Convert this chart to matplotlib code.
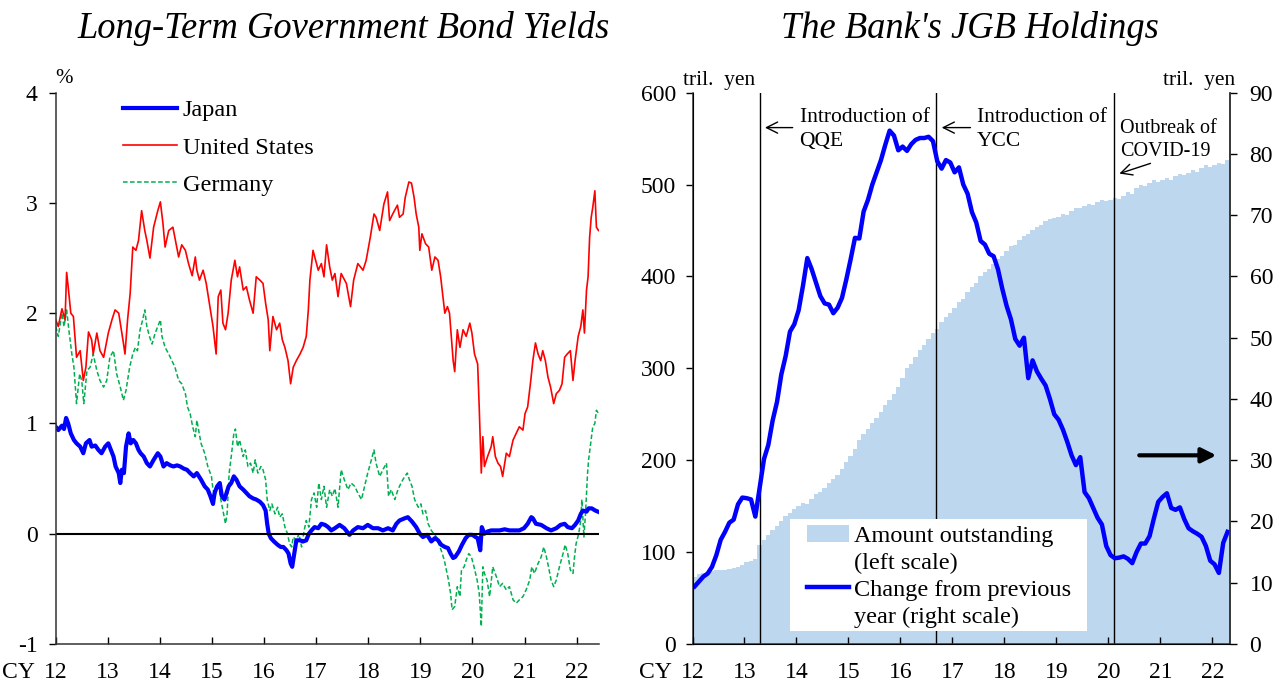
import numpy as np
import matplotlib
matplotlib.use("Agg")
import matplotlib.pyplot as plt
from matplotlib.lines import Line2D
from matplotlib.patches import Patch, Rectangle

plt.rcParams['font.family'] = ['Liberation Serif', 'DejaVu Serif']
plt.rcParams['axes.unicode_minus'] = False

# ---- left panel: 10-year government bond yields (%) ----
jp_t = [12.00, 12.05, 12.12, 12.16, 12.20, 12.24, 12.29, 12.35, 12.40, 12.47, 12.53, 12.58, 12.65, 12.69,
        12.76, 12.82, 12.88, 12.95, 13.01, 13.06, 13.11, 13.15, 13.21, 13.24, 13.27, 13.31, 13.35, 13.40,
        13.44, 13.49, 13.54, 13.59, 13.63, 13.69, 13.75, 13.81, 13.88, 13.96, 14.01, 14.07, 14.13, 14.20,
        14.26, 14.33, 14.39, 14.46, 14.52, 14.58, 14.65, 14.71, 14.79, 14.86, 14.92, 14.97, 15.02, 15.05,
        15.10, 15.15, 15.19, 15.24, 15.28, 15.32, 15.37, 15.42, 15.47, 15.53, 15.60, 15.66, 15.72, 15.79,
        15.85, 15.92, 15.98, 16.03, 16.06, 16.09, 16.13, 16.19, 16.26, 16.32, 16.37, 16.43, 16.47, 16.51,
        16.54, 16.58, 16.62, 16.69, 16.75, 16.81, 16.86, 16.91, 16.97, 17.04, 17.10, 17.17, 17.23, 17.29,
        17.36, 17.45, 17.54, 17.64, 17.71, 17.80, 17.90, 17.99, 18.09, 18.19, 18.28, 18.38, 18.47, 18.54,
        18.60, 18.70, 18.76, 18.84, 18.92, 18.99, 19.05, 19.13, 19.21, 19.28, 19.34, 19.40, 19.47, 19.53,
        19.58, 19.63, 19.67, 19.74, 19.80, 19.87, 19.93, 20.00, 20.06, 20.10, 20.15, 20.18, 20.23, 20.29,
        20.36, 20.42, 20.52, 20.62, 20.71, 20.81, 20.90, 20.99, 21.06, 21.13, 21.16, 21.22, 21.32, 21.42,
        21.51, 21.61, 21.69, 21.77, 21.83, 21.91, 21.97, 22.03, 22.08, 22.12, 22.19, 22.23, 22.29, 22.36,
        22.41]
jp_v = [0.97, 0.94, 0.98, 0.95, 1.05, 1.00, 0.91, 0.85, 0.82, 0.79, 0.73, 0.82, 0.85, 0.79,
        0.80, 0.76, 0.73, 0.79, 0.82, 0.76, 0.70, 0.61, 0.55, 0.46, 0.58, 0.55, 0.79, 0.91,
        0.82, 0.85, 0.82, 0.76, 0.73, 0.70, 0.64, 0.61, 0.67, 0.73, 0.70, 0.61, 0.64, 0.62,
        0.61, 0.62, 0.61, 0.59, 0.58, 0.55, 0.52, 0.55, 0.49, 0.43, 0.40, 0.34, 0.27, 0.37,
        0.43, 0.46, 0.34, 0.31, 0.37, 0.43, 0.46, 0.52, 0.49, 0.43, 0.40, 0.37, 0.34, 0.32,
        0.31, 0.29, 0.26, 0.21, 0.09, 0.00, -0.04, -0.07, -0.10, -0.12, -0.12, -0.15, -0.18, -0.27,
        -0.30, -0.18, -0.06, -0.06, -0.07, -0.06, 0.00, 0.03, 0.06, 0.05, 0.09, 0.08, 0.06, 0.03,
        0.05, 0.08, 0.05, -0.01, 0.03, 0.06, 0.05, 0.08, 0.05, 0.05, 0.03, 0.05, 0.03, 0.09,
        0.12, 0.14, 0.15, 0.11, 0.06, 0.00, -0.03, -0.01, -0.07, -0.04, -0.06, -0.10, -0.12, -0.13,
        -0.18, -0.22, -0.21, -0.16, -0.10, -0.04, -0.01, -0.01, -0.03, -0.04, -0.15, 0.06, 0.00, 0.02,
        0.03, 0.03, 0.03, 0.04, 0.03, 0.03, 0.03, 0.05, 0.09, 0.15, 0.14, 0.09, 0.08, 0.05,
        0.03, 0.05, 0.08, 0.09, 0.06, 0.05, 0.08, 0.12, 0.18, 0.21, 0.20, 0.23, 0.23, 0.21,
        0.20]

us_t = [12.00, 12.05, 12.12, 12.18, 12.21, 12.24, 12.29, 12.34, 12.40, 12.47, 12.53, 12.58, 12.63, 12.69,
        12.72, 12.79, 12.85, 12.92, 13.01, 13.08, 13.14, 13.21, 13.25, 13.30, 13.33, 13.38, 13.43, 13.48,
        13.54, 13.59, 13.65, 13.71, 13.75, 13.81, 13.88, 13.96, 14.01, 14.06, 14.10, 14.17, 14.25, 14.29,
        14.36, 14.42, 14.49, 14.55, 14.62, 14.68, 14.71, 14.76, 14.83, 14.89, 14.96, 15.02, 15.08, 15.12,
        15.17, 15.21, 15.26, 15.31, 15.37, 15.44, 15.49, 15.53, 15.60, 15.66, 15.72, 15.79, 15.85, 15.92,
        15.98, 16.03, 16.08, 16.11, 16.17, 16.24, 16.30, 16.35, 16.40, 16.46, 16.51, 16.56, 16.62, 16.69,
        16.75, 16.81, 16.85, 16.88, 16.94, 16.99, 17.04, 17.10, 17.15, 17.20, 17.26, 17.31, 17.36, 17.42,
        17.48, 17.58, 17.66, 17.72, 17.80, 17.90, 17.96, 18.04, 18.11, 18.15, 18.22, 18.30, 18.37, 18.41,
        18.47, 18.56, 18.60, 18.67, 18.71, 18.78, 18.83, 18.88, 18.92, 18.97, 18.99, 19.03, 19.10, 19.16,
        19.22, 19.28, 19.34, 19.39, 19.44, 19.47, 19.52, 19.56, 19.60, 19.63, 19.66, 19.71, 19.76, 19.82,
        19.88, 19.95, 19.99, 20.04, 20.10, 20.13, 20.17, 20.20, 20.23, 20.29, 20.36, 20.39, 20.44, 20.49,
        20.54, 20.58, 20.65, 20.71, 20.78, 20.84, 20.90, 20.97, 21.01, 21.06, 21.12, 21.16, 21.21, 21.26,
        21.31, 21.35, 21.40, 21.45, 21.50, 21.56, 21.61, 21.67, 21.72, 21.77, 21.82, 21.88, 21.93, 21.97,
        22.03, 22.08, 22.12, 22.15, 22.19, 22.22, 22.25, 22.28, 22.31, 22.35, 22.38, 22.42]
us_v = [1.94, 1.88, 2.04, 1.94, 2.37, 2.24, 2.00, 1.97, 1.60, 1.66, 1.39, 1.51, 1.83, 1.76,
        1.63, 1.82, 1.66, 1.60, 1.82, 1.94, 2.03, 2.00, 1.88, 1.73, 1.63, 1.94, 2.18, 2.60,
        2.57, 2.66, 2.93, 2.75, 2.66, 2.50, 2.78, 2.93, 3.01, 2.81, 2.60, 2.75, 2.78, 2.68,
        2.51, 2.62, 2.57, 2.45, 2.34, 2.51, 2.39, 2.30, 2.39, 2.27, 2.06, 1.88, 1.63, 2.15,
        2.21, 1.91, 1.85, 2.00, 2.30, 2.48, 2.33, 2.42, 2.21, 2.24, 2.12, 2.00, 2.33, 2.30,
        2.27, 2.09, 1.94, 1.66, 1.97, 1.85, 1.91, 1.76, 1.69, 1.57, 1.36, 1.51, 1.57, 1.63,
        1.69, 1.79, 2.03, 2.30, 2.57, 2.48, 2.39, 2.45, 2.33, 2.62, 2.42, 2.30, 2.36, 2.15,
        2.36, 2.27, 2.06, 2.30, 2.45, 2.39, 2.48, 2.69, 2.90, 2.87, 2.75, 2.99, 3.10, 2.84,
        2.90, 2.98, 2.87, 2.90, 3.05, 3.19, 3.18, 3.05, 2.90, 2.78, 2.57, 2.72, 2.63, 2.60,
        2.39, 2.51, 2.48, 2.33, 2.12, 2.00, 2.06, 2.00, 1.76, 1.57, 1.47, 1.85, 1.69, 1.85,
        1.79, 1.91, 1.82, 1.63, 1.54, 1.15, 0.55, 0.88, 0.61, 0.70, 0.79, 0.88, 0.70, 0.64,
        0.61, 0.52, 0.73, 0.70, 0.85, 0.91, 0.97, 0.94, 1.09, 1.15, 1.39, 1.57, 1.73, 1.63,
        1.57, 1.66, 1.57, 1.42, 1.33, 1.18, 1.27, 1.30, 1.36, 1.60, 1.63, 1.66, 1.39, 1.57,
        1.79, 1.88, 2.03, 1.82, 2.21, 2.33, 2.69, 2.87, 2.96, 3.11, 2.78, 2.75]

de_t = [12.00, 12.05, 12.12, 12.16, 12.21, 12.26, 12.31, 12.35, 12.40, 12.46, 12.50, 12.54, 12.60, 12.66,
        12.72, 12.79, 12.85, 12.92, 12.98, 13.04, 13.11, 13.17, 13.24, 13.30, 13.35, 13.42, 13.48, 13.53,
        13.57, 13.62, 13.67, 13.71, 13.75, 13.80, 13.85, 13.91, 13.96, 14.01, 14.04, 14.10, 14.17, 14.23,
        14.29, 14.36, 14.42, 14.49, 14.53, 14.58, 14.63, 14.68, 14.71, 14.79, 14.86, 14.92, 14.99, 15.02,
        15.06, 15.12, 15.17, 15.21, 15.26, 15.29, 15.33, 15.37, 15.42, 15.45, 15.49, 15.53, 15.60, 15.64,
        15.69, 15.74, 15.79, 15.83, 15.88, 15.94, 15.98, 16.03, 16.06, 16.11, 16.15, 16.21, 16.26, 16.30,
        16.35, 16.40, 16.45, 16.49, 16.53, 16.56, 16.62, 16.67, 16.72, 16.77, 16.81, 16.86, 16.91, 16.96,
        17.01, 17.05, 17.10, 17.15, 17.20, 17.26, 17.31, 17.36, 17.42, 17.48, 17.54, 17.61, 17.67, 17.74,
        17.80, 17.87, 17.93, 17.99, 18.06, 18.11, 18.15, 18.22, 18.28, 18.35, 18.39, 18.44, 18.51, 18.57,
        18.63, 18.70, 18.75, 18.79, 18.84, 18.89, 18.96, 19.01, 19.05, 19.10, 19.15, 19.21, 19.26, 19.31,
        19.35, 19.40, 19.46, 19.50, 19.54, 19.58, 19.61, 19.66, 19.71, 19.76, 19.79, 19.84, 19.88, 19.93,
        19.98, 20.03, 20.09, 20.13, 20.17, 20.20, 20.23, 20.28, 20.33, 20.39, 20.46, 20.52, 20.58, 20.65,
        20.71, 20.78, 20.84, 20.90, 20.97, 21.03, 21.10, 21.14, 21.19, 21.26, 21.32, 21.37, 21.42, 21.46,
        21.51, 21.56, 21.61, 21.67, 21.74, 21.78, 21.83, 21.88, 21.93, 21.96, 21.99, 22.04, 22.08, 22.10,
        22.14, 22.17, 22.21, 22.23, 22.27, 22.31, 22.35, 22.38, 22.42]
de_v = [1.88, 1.79, 2.00, 1.88, 2.03, 1.82, 1.63, 1.51, 1.18, 1.45, 1.39, 1.18, 1.48, 1.51,
        1.63, 1.48, 1.39, 1.33, 1.39, 1.60, 1.66, 1.45, 1.33, 1.21, 1.30, 1.51, 1.63, 1.69,
        1.66, 1.85, 1.94, 2.03, 1.88, 1.79, 1.72, 1.82, 1.88, 1.94, 1.79, 1.69, 1.63, 1.57,
        1.51, 1.39, 1.36, 1.27, 1.15, 1.09, 0.97, 0.88, 1.03, 0.82, 0.73, 0.61, 0.52, 0.40,
        0.34, 0.46, 0.31, 0.21, 0.09, 0.18, 0.55, 0.70, 0.91, 0.95, 0.79, 0.85, 0.70, 0.76,
        0.61, 0.64, 0.55, 0.67, 0.55, 0.61, 0.58, 0.49, 0.31, 0.21, 0.27, 0.18, 0.24, 0.15,
        0.18, 0.06, 0.00, -0.09, -0.12, -0.03, -0.06, 0.00, -0.12, 0.03, 0.12, 0.06, 0.31, 0.37,
        0.24, 0.46, 0.31, 0.43, 0.24, 0.40, 0.34, 0.41, 0.24, 0.58, 0.49, 0.40, 0.46, 0.43,
        0.37, 0.31, 0.43, 0.55, 0.67, 0.76, 0.64, 0.52, 0.58, 0.64, 0.34, 0.40, 0.31, 0.40,
        0.46, 0.52, 0.55, 0.49, 0.43, 0.31, 0.24, 0.27, 0.18, 0.21, 0.09, 0.03, 0.00, -0.03,
        -0.09, -0.15, -0.24, -0.33, -0.42, -0.54, -0.69, -0.66, -0.48, -0.57, -0.33, -0.30, -0.24, -0.18,
        -0.21, -0.30, -0.42, -0.54, -0.84, -0.30, -0.36, -0.42, -0.57, -0.30, -0.39, -0.48, -0.45, -0.51,
        -0.48, -0.60, -0.63, -0.60, -0.57, -0.51, -0.42, -0.30, -0.36, -0.27, -0.21, -0.12, -0.21, -0.30,
        -0.42, -0.48, -0.42, -0.30, -0.18, -0.10, -0.18, -0.33, -0.36, -0.21, -0.09, 0.00, 0.12, 0.31,
        -0.03, 0.18, 0.55, 0.67, 0.82, 0.97, 1.00, 1.12, 1.09]

year_ticks = [12, 13, 14, 15, 16, 17, 18, 19, 20, 21, 22]
year_labels = ['12', '13', '14', '15', '16', '17', '18', '19', '20', '21', '22']

# ---- right panel: BoJ JGB holdings, monthly Jan 2012 - Apr 2022 (tril. yen) ----
jgb_amount = [73, 76, 77, 78, 79, 80, 80, 81, 82, 83, 84, 86,
              89, 90, 92, 108, 113, 119, 124, 128, 134, 139, 143, 147,
              150, 153, 152, 158, 163, 165, 170, 175, 180, 184, 190, 198,
              205, 212, 222, 228, 234, 240, 246, 252, 260, 266, 272, 280,
              290, 300, 305, 312, 320, 325, 332, 338, 343, 350, 356, 360,
              366, 372, 376, 383, 389, 393, 400, 405, 408, 414, 419, 422,
              428, 433, 434, 440, 444, 446, 451, 454, 456, 460, 462, 464,
              465, 468, 467, 471, 474, 474, 477, 479, 478, 481, 483, 482,
              483, 485, 484, 488, 492, 490, 496, 499, 498, 502, 505, 503,
              505, 507, 505, 509, 512, 510, 513, 516, 514, 518, 521, 519,
              521, 524, 522, 527]
jgb_change = [9.4, 10.2, 11.0, 11.5, 12.6, 14.5, 17.0, 18.3, 19.8, 20.3, 22.8, 23.9,
              23.8, 23.6, 20.8, 25.5, 30.2, 32.5, 36.5, 39.5, 44.0, 47.0, 51.0, 52.2,
              54.5, 58.5, 63.0, 61.2, 59.0, 56.8, 55.6, 55.4, 54.0, 54.9, 56.5, 59.5,
              62.8, 66.3, 66.2, 70.6, 72.5, 75.0, 77.0, 79.0, 81.5, 83.8, 83.0, 80.6,
              81.2, 80.5, 81.6, 82.3, 82.6, 82.6, 82.8, 82.1, 78.8, 77.6, 79.0, 78.6,
              77.0, 77.8, 75.0, 73.5, 70.5, 68.8, 65.8, 65.2, 63.7, 63.3, 61.2, 58.0,
              55.2, 53.0, 49.8, 48.7, 50.0, 43.4, 46.3, 44.5, 43.3, 42.2, 40.0, 37.5,
              36.6, 35.0, 33.0, 30.8, 29.2, 30.5, 24.8, 23.8, 22.2, 20.6, 19.5, 16.0,
              14.5, 14.0, 14.1, 14.3, 13.9, 13.2, 15.0, 16.4, 16.4, 17.6, 20.5, 23.2,
              24.0, 24.6, 22.2, 21.9, 22.3, 20.4, 18.9, 18.4, 18.0, 17.5, 16.0, 13.6,
              13.0, 11.6, 16.5, 18.3]
months = 12 + (np.arange(len(jgb_amount)) + 0.5) / 12

events = [13.30, 16.68, 20.11]  # QQE, YCC, COVID-19

BLUE = '#0000FF'
RED = '#FF0000'
GREEN = '#00B050'
BAR = '#BDD7EE'
FS = 17
LFS = 17.5

fig = plt.figure(figsize=(12.86, 6.84), dpi=100)

# ---------------- left panel ----------------
ax = fig.add_axes([0.0433, 0.0585, 0.4225, 0.806])
ax.plot(de_t, de_v, color=GREEN, lw=1.1, ls=(0, (3, 1.6)))
ax.plot(us_t, us_v, color=RED, lw=1.2)
ax.plot(jp_t, jp_v, color=BLUE, lw=3.0)
ax.axhline(0, color='black', lw=1.5)
ax.set_xlim(12, 22.43)
ax.set_ylim(-1, 4)
ax.set_yticks([-1, 0, 1, 2, 3, 4])
ax.set_xticks(year_ticks)
ax.set_xticklabels(year_labels)
for s in ['top', 'right']:
    ax.spines[s].set_visible(False)
for s in ['left', 'bottom']:
    ax.spines[s].set_linewidth(1.1)
    ax.spines[s].set_color('#333333')
ax.tick_params(axis='x', direction='in', length=5, width=1, labelsize=FS, pad=13)
ax.tick_params(axis='y', direction='out', length=5, width=1, labelsize=FS, pad=8)
ax.text(0.0, 1.008, '%', transform=ax.transAxes, fontsize=15, ha='left', va='bottom')
ax.annotate('CY', xy=(0, 0), xycoords='axes fraction', xytext=(-15, -13),
            textcoords='offset points', ha='right', va='top', fontsize=FS)

handles = [Line2D([], [], color=BLUE, lw=3.0),
           Line2D([], [], color=RED, lw=1.2),
           Line2D([], [], color=GREEN, lw=1.1, ls=(0, (3, 1.6)))]
ax.legend(handles, ['Japan', 'United States', 'Germany'], loc='upper left',
          bbox_to_anchor=(0.124, 0.988), frameon=False, fontsize=LFS,
          handlelength=2.2, handletextpad=0.25, labelspacing=0.63,
          borderpad=0, borderaxespad=0)

fig.text(0.267, 0.959, 'Long-Term Government Bond Yields', ha='center', va='center',
         fontsize=26.3, style='italic')

# ---------------- right panel ----------------
bx = fig.add_axes([0.5385, 0.0585, 0.418, 0.806])
bx.bar(months, jgb_amount, width=1 / 12, color=BAR, linewidth=0)
for e in events:
    bx.axvline(e, color='black', lw=1.0)
bx.set_xlim(12, 22.34)
bx.set_ylim(0, 600)
bx.set_yticks(range(0, 601, 100))
bx.set_xticks(year_ticks)
bx.set_xticklabels(year_labels)
bx.spines['top'].set_visible(False)
for s in ['left', 'bottom', 'right']:
    bx.spines[s].set_linewidth(1.1)
    bx.spines[s].set_color('#333333')
bx.tick_params(axis='x', direction='in', length=5, width=1, labelsize=FS, pad=13)
bx.tick_params(axis='y', direction='out', length=5, width=1, labelsize=FS, pad=7)
bx.annotate('CY', xy=(0, 0), xycoords='axes fraction', xytext=(-15, -13),
            textcoords='offset points', ha='right', va='top', fontsize=FS)
bx.text(-0.018, 1.005, 'tril.  yen', transform=bx.transAxes, fontsize=15.5, ha='left', va='bottom')

ann = dict(fontsize=15.5, ha='left', va='top', linespacing=1.3)
arr = dict(arrowstyle='->', lw=1.0, color='black', mutation_scale=20)
bx.text(14.06, 583, 'Introduction of\nQQE', **ann)
bx.annotate('', xy=(13.34, 562), xytext=(13.98, 562), arrowprops=arr)
bx.text(17.47, 583, 'Introduction of\nYCC', **ann)
bx.annotate('', xy=(16.74, 562), xytext=(17.40, 562), arrowprops=arr)
bx.text(20.22, 571, 'Outbreak of\nCOVID-19', fontsize=14.5, ha='left', va='top', linespacing=1.25)
bx.annotate('', xy=(20.16, 511), xytext=(20.86, 524), arrowprops=arr)

cx = bx.twinx()
cx.plot(months, jgb_change, color=BLUE, lw=3.2, solid_joinstyle='round')
cx.set_ylim(0, 90)
cx.set_yticks(range(0, 91, 10))
cx.spines['top'].set_visible(False)
cx.spines['right'].set_linewidth(1.1)
cx.spines['right'].set_color('#333333')
cx.tick_params(axis='y', direction='out', length=5, width=1, labelsize=FS, pad=9)
cx.text(1.009, 1.005, 'tril.  yen', transform=cx.transAxes, fontsize=15.5, ha='right', va='bottom')
cx.annotate('', xy=(22.13, 30.8), xytext=(20.54, 30.8),
            arrowprops=dict(arrowstyle='-|>', lw=3, color='black', mutation_scale=22))

# white legend box, then the legend rows (second text lines carry no handle)
cx.add_patch(Rectangle((0.1814, 0.0236), 0.5526, 0.2033, transform=cx.transAxes,
                       facecolor='white', edgecolor='none', zorder=4))
blank = Line2D([], [], color='none')
leg_handles = [Patch(facecolor=BAR, edgecolor='none'), blank,
               Line2D([], [], color=BLUE, lw=3.2), blank]
leg_labels = ['Amount outstanding', '(left scale)', 'Change from previous', 'year (right scale)']
cx.legend(leg_handles, leg_labels, loc='upper left', bbox_to_anchor=(0.2125, 0.216),
          fontsize=LFS, frameon=False, handlelength=1.75, handletextpad=0.2,
          labelspacing=0.2, borderpad=0, borderaxespad=0)

fig.text(0.754, 0.959, "The Bank's JGB Holdings", ha='center', va='center',
         fontsize=26.3, style='italic')

fig.savefig('out.png', dpi=100)
